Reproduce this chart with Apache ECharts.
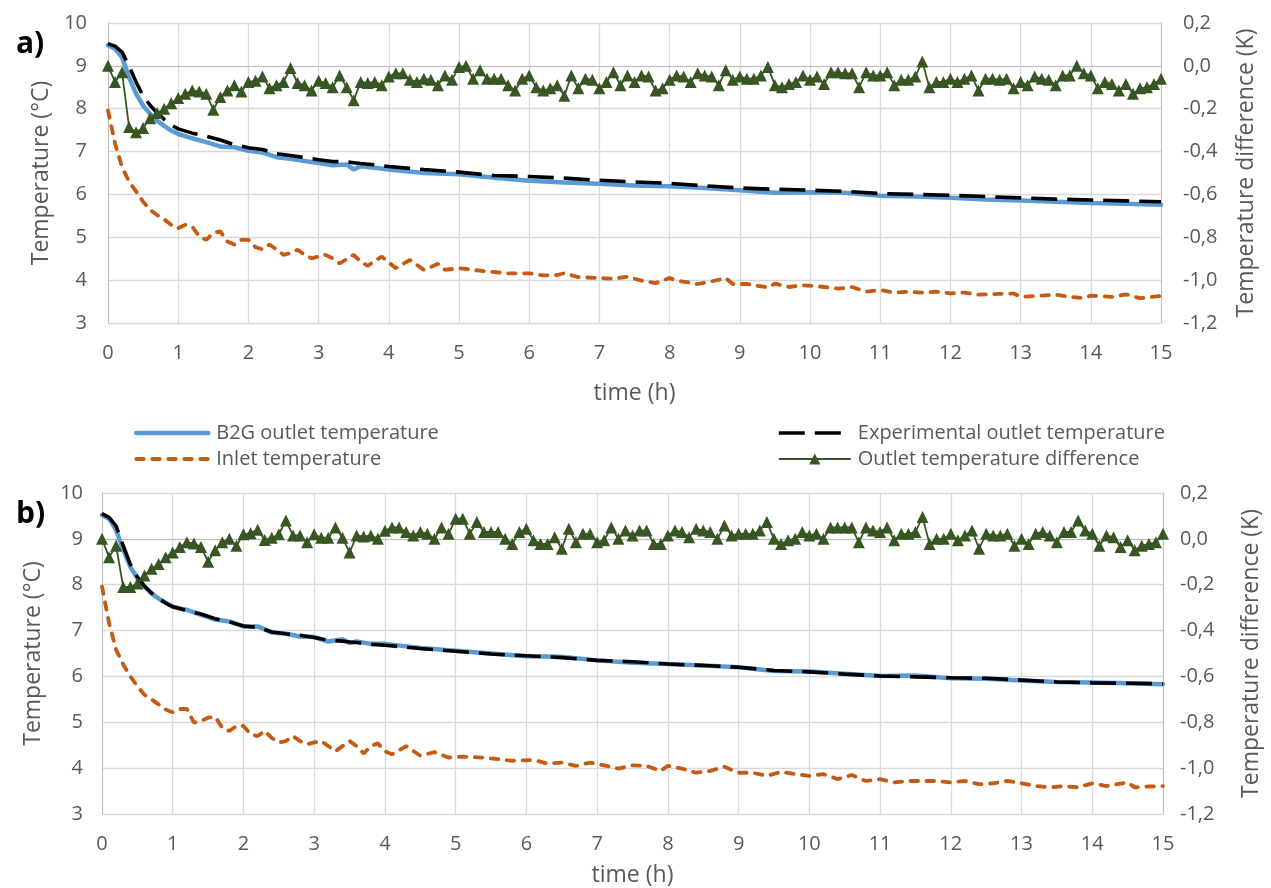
<!DOCTYPE html>
<html>
<head>
<meta charset="utf-8">
<script src="https://cdn.jsdelivr.net/npm/echarts@6/dist/echarts.min.js"></script>
<style>
html,body{margin:0;padding:0;background:#fff;}
#c{width:1271px;height:888px;}
</style>
</head>
<body>
<div id="c"></div>
<script>
// ---- time axes (h) ----
var tDiff = [0,0.1,0.2,0.3,0.4,0.5,0.6,0.7,0.8,0.9,
1,1.1,1.2,1.3,1.4,1.5,1.6,1.7,1.8,1.9,
2,2.1,2.2,2.3,2.4,2.5,2.6,2.7,2.8,2.9,
3,3.1,3.2,3.3,3.4,3.5,3.6,3.7,3.8,3.9,
4,4.1,4.2,4.3,4.4,4.5,4.6,4.7,4.8,4.9,
5,5.1,5.2,5.3,5.4,5.5,5.6,5.7,5.8,5.9,
6,6.1,6.2,6.3,6.4,6.5,6.6,6.7,6.8,6.9,
7,7.1,7.2,7.3,7.4,7.5,7.6,7.7,7.8,7.9,
8,8.1,8.2,8.3,8.4,8.5,8.6,8.7,8.8,8.9,
9,9.1,9.2,9.3,9.4,9.5,9.6,9.7,9.8,9.9,
10,10.1,10.2,10.3,10.4,10.5,10.6,10.7,10.8,10.9,
11,11.1,11.2,11.3,11.4,11.5,11.6,11.7,11.8,11.9,
12,12.1,12.2,12.3,12.4,12.5,12.6,12.7,12.8,12.9,
13,13.1,13.2,13.3,13.4,13.5,13.6,13.7,13.8,13.9,
14,14.1,14.2,14.3,14.4,14.5,14.6,14.7,14.8,14.9,15];

var tOutlet = [0,0.1,0.2,0.3,0.4,0.5,0.6,0.7,0.8,0.9,1.0,1.2,1.4,1.6,1.8,2.0,2.2,2.4,2.6,2.8,3.0,3.2,3.4,3.5,3.6,3.8,4.0,
4.5,5,5.5,6,6.5,7,7.5,8,8.5,9,9.5,10,10.5,11,11.5,12,12.5,13,13.5,14,14.5,15];

var tInletA = [0,0.1,0.2,0.3,0.4,0.5,0.6,0.7,0.8,0.9,1,1.1,1.2,1.3,1.4,1.5,1.6,1.7,1.8,1.9,
2,2.1,2.2,2.3,2.4,2.5,2.6,2.7,2.8,2.9,3,3.1,3.2,3.3,3.4,3.5,3.6,3.7,3.8,3.9,4,
4.1,4.3,4.5,4.7,4.8,5.0,5.3,5.7,6.0,6.2,6.4,6.5,6.7,7.0,7.2,7.4,7.6,7.8,8.0,8.1,8.4,8.6,8.8,8.9,
9.1,9.4,9.5,9.7,9.9,10.1,10.4,10.6,10.8,11.0,11.2,11.4,11.6,11.8,12.0,12.2,12.4,12.7,12.9,
13.0,13.2,13.5,13.7,13.9,14.0,14.3,14.5,14.7,15.0];

var tInletB = [0,0.1,0.2,0.3,0.4,0.5,0.6,0.7,0.8,0.9,1,1.1,1.2,1.3,1.4,1.5,1.6,1.7,1.8,1.9,
2,2.1,2.2,2.3,2.4,2.5,2.6,2.7,2.8,2.9,3,3.1,3.2,3.3,3.4,3.5,3.6,3.7,3.8,3.9,4,
4.1,4.3,4.5,4.7,4.9,5.1,5.4,5.8,6.1,6.3,6.5,6.7,6.9,7.1,7.3,7.5,7.7,7.9,8.0,8.2,8.4,8.6,8.8,9.0,
9.2,9.4,9.6,9.8,10.0,10.2,10.4,10.6,10.8,11.0,11.2,11.4,11.6,11.8,12.0,12.2,12.4,12.6,12.8,
13.0,13.2,13.4,13.6,13.8,14.0,14.2,14.5,14.6,14.8,15.0];

// ---- panel a) ----
var b2gA = [9.48,9.40,9.20,8.73,8.35,8.07,7.88,7.72,7.60,7.49,7.41,7.31,7.22,7.12,7.10,7.02,6.98,6.87,6.83,6.78,6.73,6.68,6.70,6.58,6.66,6.62,6.58,
6.50,6.47,6.39,6.32,6.28,6.25,6.21,6.19,6.15,6.10,6.04,6.05,6.04,5.97,5.95,5.92,5.88,5.86,5.83,5.80,5.78,5.76];
var expA = [9.52,9.46,9.32,9.00,8.62,8.30,8.08,7.90,7.75,7.62,7.53,7.43,7.36,7.27,7.16,7.09,7.05,6.95,6.91,6.86,6.81,6.77,6.76,6.74,6.72,6.69,6.65,
6.58,6.52,6.44,6.42,6.38,6.33,6.29,6.26,6.20,6.15,6.12,6.10,6.07,6.02,6.00,5.98,5.95,5.92,5.89,5.87,5.85,5.83];
var inletA = [7.96,7.19,6.64,6.30,6.07,5.83,5.64,5.52,5.42,5.29,5.21,5.29,5.25,5.02,4.94,5.10,5.14,4.90,4.83,4.94,
4.94,4.77,4.72,4.83,4.72,4.59,4.63,4.71,4.59,4.51,4.55,4.59,4.51,4.39,4.49,4.59,4.43,4.33,4.45,4.55,4.41,
4.28,4.47,4.24,4.38,4.24,4.28,4.22,4.16,4.16,4.11,4.12,4.16,4.07,4.05,4.03,4.08,3.99,3.93,4.05,3.99,3.91,3.97,4.05,3.91,
3.91,3.83,3.92,3.84,3.88,3.86,3.80,3.84,3.73,3.77,3.71,3.73,3.71,3.73,3.69,3.71,3.66,3.68,3.69,
3.61,3.63,3.66,3.61,3.58,3.64,3.61,3.67,3.58,3.63];
var diffA = [0,-0.075,-0.03,-0.285,-0.31,-0.29,-0.245,-0.22,-0.2,-0.175,
-0.15,-0.13,-0.115,-0.12,-0.13,-0.205,-0.145,-0.115,-0.09,-0.12,
-0.075,-0.07,-0.05,-0.105,-0.09,-0.075,-0.01,-0.08,-0.09,-0.115,
-0.07,-0.08,-0.1,-0.045,-0.1,-0.16,-0.075,-0.08,-0.075,-0.09,
-0.05,-0.035,-0.035,-0.065,-0.075,-0.06,-0.065,-0.09,-0.045,-0.065,
-0.005,0.0,-0.06,-0.02,-0.06,-0.06,-0.06,-0.09,-0.115,-0.06,
-0.045,-0.1,-0.115,-0.105,-0.09,-0.14,-0.045,-0.105,-0.06,-0.065,
-0.105,-0.075,-0.03,-0.09,-0.045,-0.075,-0.045,-0.05,-0.115,-0.105,
-0.065,-0.045,-0.05,-0.075,-0.035,-0.045,-0.05,-0.09,-0.02,-0.065,
-0.05,-0.06,-0.06,-0.045,-0.005,-0.09,-0.1,-0.085,-0.075,-0.045,
-0.065,-0.05,-0.085,-0.03,-0.03,-0.035,-0.035,-0.1,-0.03,-0.045,
-0.045,-0.03,-0.09,-0.065,-0.065,-0.05,0.02,-0.1,-0.075,-0.075,
-0.06,-0.075,-0.06,-0.045,-0.115,-0.06,-0.06,-0.065,-0.06,-0.105,
-0.075,-0.09,-0.05,-0.06,-0.065,-0.09,-0.045,-0.045,0.0,-0.035,
-0.045,-0.105,-0.075,-0.085,-0.115,-0.085,-0.13,-0.105,-0.1,-0.085,-0.06];

// ---- panel b) ----
var b2gB = [9.52,9.44,9.19,8.76,8.39,8.14,7.96,7.81,7.70,7.61,7.52,7.45,7.34,7.24,7.20,7.09,7.09,6.96,6.93,6.87,6.86,6.76,6.81,6.73,6.76,6.71,6.71,
6.62,6.56,6.50,6.44,6.43,6.35,6.30,6.27,6.24,6.20,6.12,6.11,6.06,6.01,6.02,5.96,5.95,5.91,5.88,5.87,5.85,5.83];
var expB = [9.55,9.47,9.28,8.85,8.45,8.17,7.97,7.82,7.70,7.60,7.52,7.44,7.36,7.26,7.19,7.10,7.07,6.97,6.93,6.90,6.85,6.79,6.77,6.75,6.74,6.70,6.68,
6.61,6.55,6.49,6.45,6.41,6.35,6.32,6.27,6.24,6.20,6.13,6.10,6.05,6.01,5.99,5.97,5.96,5.92,5.88,5.86,5.85,5.84];
var inletB = [7.96,7.16,6.58,6.26,6.00,5.79,5.60,5.50,5.39,5.28,5.22,5.29,5.29,4.99,5.03,5.10,5.12,4.88,4.81,4.92,
4.92,4.74,4.70,4.81,4.66,4.56,4.59,4.70,4.59,4.52,4.56,4.59,4.48,4.37,4.48,4.59,4.48,4.32,4.48,4.54,4.37,
4.30,4.48,4.27,4.35,4.23,4.25,4.23,4.16,4.18,4.10,4.12,4.05,4.12,4.06,3.99,4.06,4.05,3.94,4.05,3.99,3.90,3.94,4.03,3.90,
3.90,3.83,3.92,3.87,3.83,3.87,3.76,3.85,3.72,3.76,3.69,3.72,3.72,3.72,3.69,3.72,3.65,3.67,3.72,
3.67,3.61,3.58,3.61,3.58,3.67,3.61,3.69,3.58,3.60,3.61];
var diffB = [0,-0.08,-0.03,-0.21,-0.21,-0.195,-0.16,-0.13,-0.11,-0.08,
-0.06,-0.035,-0.015,-0.02,-0.035,-0.1,-0.05,-0.015,0.0,-0.03,
0.02,0.025,0.04,-0.005,0.005,0.02,0.08,0.015,0.015,-0.015,
0.02,0.005,0.005,0.05,0.005,-0.06,0.015,0.01,0.015,0.0,
0.035,0.05,0.05,0.03,0.015,0.03,0.022,0.0,0.05,0.022,
0.088,0.088,0.022,0.073,0.03,0.03,0.03,0.0,-0.022,0.03,
0.044,-0.006,-0.022,-0.022,0.007,-0.043,0.044,-0.015,0.022,0.022,
-0.015,-0.006,0.05,0.0,0.036,0.015,0.036,0.036,-0.022,-0.022,
0.015,0.036,0.03,0.007,0.044,0.036,0.03,0.0,0.058,0.015,
0.022,0.022,0.022,0.036,0.073,0.0,-0.022,-0.006,0.0,0.03,
0.015,0.022,0.0,0.05,0.05,0.05,0.05,-0.015,0.05,0.036,
0.03,0.05,-0.006,0.022,0.022,0.03,0.095,-0.022,0.0,0.0,
0.022,-0.006,0.015,0.036,-0.043,0.022,0.015,0.015,0.022,-0.03,
0.0,-0.022,0.022,0.03,0.015,-0.015,0.03,0.03,0.08,0.036,
0.022,-0.03,0.015,0.007,-0.036,-0.006,-0.05,-0.03,-0.022,-0.015,0.022];

var xTicks = [0,1,2,3,4,5,6,7,8,9,10,11,12,13,14,15];

var NAMES = ['B2G outlet temperature','Experimental outlet temperature','Inlet temperature','Outlet temperature difference'];
var COL = {b2g:'#5B9BD5', exp:'#000000', inlet:'#C55A11', diff:'#375623'};
var TXT = '#595959';
var FONT = '"Open Sans", Lato, sans-serif';
var STY = {
  b2g:{color:COL.b2g, width:4.5, type:'solid', cap:'round'},
  exp:{color:COL.exp, width:3.6, type:[26,10], cap:'butt'},
  inlet:{color:COL.inlet, width:3.8, type:[7.5,8.5], cap:'round'},
  diff:{color:COL.diff, width:1.8, type:'solid', cap:'butt'}
};

function pairs(t, v){ var out=[]; for(var i=0;i<v.length;i++){ out.push([t[i], v[i]]); } return out; }

function xAx(gi, gap){
  return {
    type:'value', gridIndex:gi, min:xTicks[0], max:xTicks[xTicks.length-1], interval:1,
    name:'time (h)', nameLocation:'middle', nameGap:gap,
    nameTextStyle:{color:TXT, fontSize:23, fontFamily:FONT},
    axisLine:{lineStyle:{color:'#BFBFBF', width:1}},
    axisTick:{show:false},
    axisLabel:{color:TXT, fontSize:20, fontFamily:FONT, margin:20},
    splitLine:{show:true, lineStyle:{color:'#D9D9D9', width:1.3}}
  };
}
function yLeft(gi, gap, mg){
  return {
    type:'value', gridIndex:gi, min:3, max:10, interval:1, position:'left',
    name:'Temperature (°C)', nameLocation:'middle', nameGap:gap,
    nameTextStyle:{color:TXT, fontSize:23, fontFamily:FONT},
    axisLine:{show:true, lineStyle:{color:'#BFBFBF', width:1}},
    axisTick:{show:false},
    axisLabel:{color:TXT, fontSize:20, fontFamily:FONT, margin:mg},
    splitLine:{show:true, lineStyle:{color:'#D9D9D9', width:1.3}}
  };
}
function yRight(gi, gap, mg){
  return {
    type:'value', gridIndex:gi, min:-1.2, max:0.2, interval:0.2, position:'right',
    name:'Temperature difference (K)', nameLocation:'middle', nameGap:gap,
    nameTextStyle:{color:TXT, fontSize:23, fontFamily:FONT},
    axisLine:{show:true, lineStyle:{color:'#BFBFBF', width:1}},
    axisTick:{show:false},
    axisLabel:{color:TXT, fontSize:20, fontFamily:FONT, margin:mg, align:'left',
      formatter:function(v){ return (Math.abs(v)<1e-9?0:v).toFixed(1).replace('.', ','); }},
    splitLine:{show:false}
  };
}
function panelSeries(xi, yl, yr, b2g, exp, inlet, diff, tIn){
  return [
    {name:NAMES[0], type:'line', xAxisIndex:xi, yAxisIndex:yl, data:pairs(tOutlet,b2g), symbol:'none',
      lineStyle:STY.b2g, itemStyle:{color:COL.b2g}, z:2},
    {name:NAMES[1], type:'line', xAxisIndex:xi, yAxisIndex:yl, data:pairs(tOutlet,exp), symbol:'none',
      lineStyle:STY.exp, itemStyle:{color:COL.exp}, z:3},
    {name:NAMES[2], type:'line', xAxisIndex:xi, yAxisIndex:yl, data:pairs(tIn,inlet), symbol:'none',
      lineStyle:STY.inlet, itemStyle:{color:COL.inlet}, z:3},
    {name:NAMES[3], type:'line', xAxisIndex:xi, yAxisIndex:yr, data:pairs(tDiff,diff), symbol:'triangle', symbolSize:12,
      showAllSymbol:true, lineStyle:STY.diff, itemStyle:{color:COL.diff, borderWidth:0}, z:4}
  ];
}
function legItem(name, st, showSym){
  return {name:name, lineStyle:{color:st.color, width:st.width, type:st.type, cap:st.cap, opacity:1},
    itemStyle: showSym ? {color:st.color, borderWidth:0} : {opacity:0}};
}

var chart = echarts.init(document.getElementById('c'), null, {renderer:'canvas'});
var option = {
  backgroundColor:'#ffffff',
  animation:false,
  textStyle:{fontFamily:FONT},
  title:[
    {text:'a)', left:11, top:24, textStyle:{fontSize:30, fontWeight:'bold', color:'#000', fontFamily:FONT}},
    {text:'b)', left:11, top:494, textStyle:{fontSize:30, fontWeight:'bold', color:'#000', fontFamily:FONT}}
  ],
  legend:[
    {data:[legItem(NAMES[0],STY.b2g,false), legItem(NAMES[2],STY.inlet,false)], orient:'vertical', left:129, top:416,
      itemWidth:72, itemHeight:14, itemGap:2,
      textStyle:{color:TXT, fontSize:20, fontFamily:FONT, lineHeight:24, padding:[0,0,0,3]}},
    {data:[legItem(NAMES[1],STY.exp,false), legItem(NAMES[3],STY.diff,true)], orient:'vertical', left:772, top:416,
      itemWidth:72, itemHeight:14, itemGap:2,
      textStyle:{color:TXT, fontSize:20, fontFamily:FONT, lineHeight:24, padding:[0,0,0,2]}}
  ],
  grid:[
    {left:108, right:110, top:23, height:300},
    {left:102, right:104, top:493, height:322}
  ],
  xAxis:[xAx(0,59), xAx(1,50)],
  yAxis:[yLeft(0,55,21), yRight(0,74,22), yLeft(1,57,19), yRight(1,77,17)],
  series:[].concat(
    panelSeries(0,0,1,b2gA,expA,inletA,diffA,tInletA),
    panelSeries(1,2,3,b2gB,expB,inletB,diffB,tInletB)
  )
};
chart.setOption(option);
</script>
</body>
</html>
